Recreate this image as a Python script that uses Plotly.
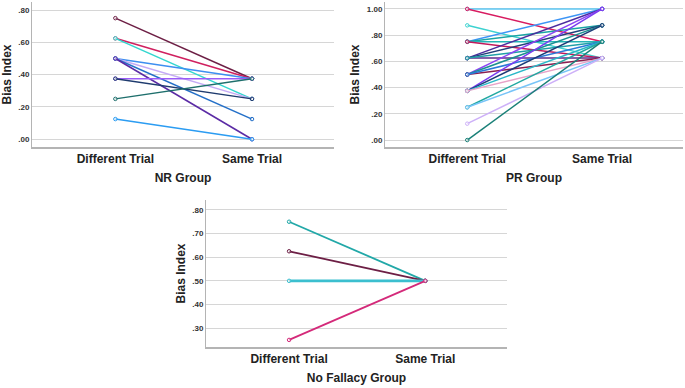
import plotly.graph_objects as go

categories = ["Different Trial", "Same Trial"]

# NR group: (Different Trial, Same Trial) bias index per participant line
nr_diff = [0.75, 0.625, 0.625, 0.5, 0.5, 0.5, 0.5, 0.375, 0.375, 0.25, 0.125]
nr_same = [0.375, 0.375, 0.25, 0.375, 0.25, 0.125, 0.0, 0.375, 0.25, 0.375, 0.0]

# PR group
pr_diff = [1.0, 1.0, 0.875, 0.75, 0.75, 0.75, 0.75, 0.625, 0.625, 0.625, 0.625,
           0.5, 0.5, 0.5, 0.5, 0.375, 0.375, 0.375, 0.375, 0.25, 0.25, 0.125, 0.0]
pr_same = [1.0, 0.75, 0.625, 1.0, 0.875, 0.75, 0.625, 1.0, 0.875, 0.625, 0.75,
           1.0, 0.875, 0.625, 0.75, 1.0, 0.875, 0.75, 0.625, 0.75, 0.625, 0.625, 0.75]

# No Fallacy group
nf_diff = [0.75, 0.625, 0.5, 0.25]
nf_same = [0.5, 0.5, 0.5, 0.5]

nr_ticks = [0.0, 0.2, 0.4, 0.6, 0.8]
pr_ticks = [0.0, 0.2, 0.4, 0.6, 0.8, 1.0]
nf_ticks = [0.3, 0.4, 0.5, 0.6, 0.7, 0.8]

nr_colors = ["#6d1f45", "#d0205f", "#33d6cf", "#3d8ff0", "#c4aaf5", "#2470c8",
             "#5b2ba5", "#9b5cf7", "#1e3b6e", "#1e6f6c", "#2b9cf2"]
pr_colors = ["#5cc8f5", "#d81b60", "#3cd2d0", "#3d95f5", "#1aa5a5", "#25b5b5",
             "#c2185b", "#4b2c9e", "#20407a", "#5c2d8c", "#20a0a8", "#8c45f2",
             "#1a9090", "#8b1e50", "#2a7ad8", "#7a3cf0", "#1c3c78", "#2ab8c8",
             "#e8a2c8", "#20a8a0", "#78c4f8", "#cdb0f8", "#1a8078"]
nf_colors = ["#22a8a8", "#6d1f45", "#3bbfcf", "#d42a7a"]
nf_widths = [1.8, 1.8, 2.8, 1.8]


def fmt(v):
    s = f"{v:.2f}"
    return s[1:] if s.startswith("0") else s


fig = go.Figure()


def add_group(diff, same, colors, xa, ya, widths=None):
    for i, (d, s, c) in enumerate(zip(diff, same, colors)):
        w = widths[i] if widths else 1.5
        fig.add_trace(go.Scatter(
            x=categories, y=[d, s], mode="lines+markers",
            line=dict(color=c, width=w),
            marker=dict(symbol="circle", size=3.5, color="rgba(255,255,255,0.5)",
                        line=dict(color=c, width=1)),
            xaxis=xa, yaxis=ya, showlegend=False, hoverinfo="y"))


add_group(nr_diff, nr_same, nr_colors, "x", "y")
add_group(pr_diff, pr_same, pr_colors, "x2", "y2")
add_group(nf_diff, nf_same, nf_colors, "x3", "y3", nf_widths)

font_main = "Liberation Sans, Arial, sans-serif"


def xax(domain, anchor, title):
    return dict(domain=domain, anchor=anchor, type="category",
                categoryorder="array", categoryarray=categories,
                tickvals=categories, ticktext=["<b>" + c + "</b>" for c in categories],
                range=[-0.61, 1.6], showgrid=False, zeroline=False,
                showline=True, linecolor="#b4b4b4", linewidth=2,
                ticks="", tickfont=dict(family=font_main, size=12, color="#222"),
                title=dict(text="<b>" + title + "</b>", standoff=8,
                           font=dict(family=font_main, size=12, color="#222")),
                fixedrange=True)


def yax(domain, anchor, rng, ticks):
    return dict(domain=domain, anchor=anchor, range=rng,
                tickvals=ticks, ticktext=["<b>" + fmt(t) + "</b>" for t in ticks],
                showgrid=True, gridcolor="#d6d6d6", gridwidth=1,
                zeroline=False, showline=True, linecolor="#b4b4b4", linewidth=1,
                ticks="", tickfont=dict(family=font_main, size=8, color="#333"),
                title=dict(text="<b>Bias Index</b>", standoff=4,
                           font=dict(family=font_main, size=12, color="#222")),
                fixedrange=True)


fig.update_layout(
    width=685, height=388,
    margin=dict(l=0, r=0, t=0, b=0),
    paper_bgcolor="white", plot_bgcolor="white",
    xaxis=xax([32 / 685, 334 / 685], "y", "NR Group"),
    yaxis=yax([1 - 147 / 388, 1 - 2 / 388], "x", [-0.048, 0.85], nr_ticks),
    xaxis2=xax([385 / 685, 683 / 685], "y2", "PR Group"),
    yaxis2=yax([1 - 147 / 388, 1 - 2 / 388], "x2", [-0.053, 1.053], pr_ticks),
    xaxis3=xax([206 / 685, 507 / 685], "y3", "No Fallacy Group"),
    yaxis3=yax([1 - 347 / 388, 1 - 200 / 388], "x3", [0.22, 0.842], nf_ticks),
)

fig.write_html("out.html")
